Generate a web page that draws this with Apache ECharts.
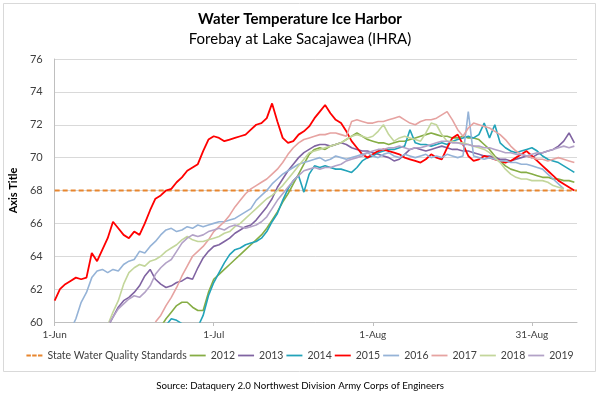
<!DOCTYPE html>
<html>
<head>
<meta charset="utf-8">
<script src="https://cdn.jsdelivr.net/npm/echarts@6/dist/echarts.min.js"></script>
<style>
  html, body { margin: 0; padding: 0; background: #fff; }
  #chart { width: 600px; height: 399px; }
</style>
</head>
<body>
<div id="chart"></div>
<script>
// --- data: daily temperatures (°F), day 0 = 1-Jun ---
const xTickLabels = ['1-Jun', '1-Jul', '1-Aug', '31-Aug'];
const wqsLevel = 68;
const wqsDays = [0, 98.5];

const start2012 = 20;
const temps2012 = [59.7,
  60.2, 60.6, 61.0, 61.2, 61.2, 60.9, 60.7, 60.7, 61.8,
  62.6, 62.9, 63.2, 63.5, 63.8, 64.1, 64.4, 64.7, 65.0, 65.3,
  65.7, 66.2, 66.7, 67.3, 67.8, 68.4, 69.0, 69.6, 70.2, 70.5,
  70.6, 70.5, 70.7, 70.8, 70.9, 71.1, 71.3, 71.5, 71.3, 71.1,
  71.0, 70.9, 70.9, 70.8, 70.9, 71.0, 71.0, 71.1, 71.2, 71.3,
  71.4, 71.5, 71.4, 71.3, 71.3, 71.2, 71.2, 71.3, 71.2, 71.2,
  71.1, 70.8, 70.5, 70.1, 69.8, 69.5, 69.3, 69.2, 69.1, 69.1,
  69.0, 68.9, 68.8, 68.8, 68.7, 68.7, 68.6, 68.6, 68.5];

const start2013 = 10;
const temps2013 = [59.7,
  60.3, 60.9, 61.3, 61.5, 61.8, 62.2, 62.8, 63.2, 62.6,
  62.3, 62.1, 62.2, 62.4, 62.5, 62.7, 62.6, 63.3, 63.9, 64.3,
  64.6, 64.7, 64.9, 65.1, 65.4, 65.6, 65.8, 65.9, 66.2, 66.6,
  67.0, 67.5, 68.2, 68.7, 69.2, 69.6, 70.0, 70.3, 70.5, 70.7,
  70.8, 70.8, 70.7, 70.8, 70.9, 70.8, 70.6, 70.5, 70.4, 70.4,
  70.3, 70.2, 70.1, 70.0, 69.8, 69.9, 70.2, 70.5, 70.6, 70.5,
  70.4, 70.5, 70.6, 70.7, 70.6, 70.5, 70.5, 70.4, 70.4, 70.3,
  70.2, 70.1, 70.1, 70.0, 69.9, 69.9, 69.8, 69.9, 70.0, 70.1,
  70.0, 70.2, 70.3, 70.4, 70.5, 70.7, 71.0, 71.5, 70.9];

const start2014 = 21;
const temps2014 = [59.8,
  60.2, 60.1, 59.9, 59.6, 59.5, 59.7, 60.4, 61.6,
  62.4, 63.0, 63.6, 64.1, 64.4, 64.5, 64.7, 64.8, 64.9, 65.1,
  65.5, 66.1, 66.6, 67.4, 68.1, 68.6, 68.9, 67.9, 69.0, 69.5,
  69.4, 69.5, 69.4, 69.3, 69.3, 69.2, 69.1, 69.4, 69.8, 70.0,
  70.1, 70.3, 70.4, 70.5, 70.5, 70.6, 70.7, 71.7, 70.9, 70.8,
  70.8, 70.7, 70.8, 70.9, 70.8, 71.0, 71.1, 71.2, 71.3, 71.2,
  71.4, 72.1, 71.2, 72.0, 70.9, 70.6, 70.4, 70.3, 70.4, 70.5,
  70.6, 70.4, 70.1, 69.9, 69.8, 69.7, 69.5, 69.3, 69.1];

const start2015 = 0;
const temps2015 = [
  61.3, 62.0, 62.3, 62.5, 62.7, 62.6, 62.7, 64.2, 63.7, 64.4,
  65.1, 66.1, 65.7, 65.3, 65.1, 65.5, 65.3, 66.0, 66.8, 67.5,
  67.7, 68.0, 68.1, 68.5, 68.8, 69.2, 69.4, 69.6, 70.4, 71.1,
  71.3, 71.2, 71.0, 71.1, 71.2, 71.3, 71.4, 71.7, 72.0, 72.1,
  72.4, 73.3, 72.2, 71.2, 70.9, 71.0, 71.4, 71.6, 71.9, 72.4,
  72.8, 73.2, 72.7, 72.3, 72.1, 71.6, 71.0, 70.6, 70.2, 70.0,
  70.2, 70.4, 70.5, 70.4, 70.3, 70.2, 70.0, 69.9, 69.8, 69.7,
  69.9, 70.2, 70.0, 69.9, 70.6, 71.2, 71.4, 70.8, 70.1, 69.8,
  69.9, 70.1, 70.0, 69.9, 69.8, 69.7, 69.8, 70.0, 70.2, 70.4,
  70.1, 69.8, 69.5, 69.2, 68.9, 68.6, 68.4, 68.2, 68.0];

const start2016 = 3;
const temps2016 = [59.5, 60.2, 61.2, 61.8, 62.7, 63.1, 63.2,
  63.0, 63.2, 63.1, 63.5, 63.7, 63.8, 64.3, 64.2, 64.6, 64.9,
  65.3, 65.6, 65.7, 65.5, 65.6, 65.8, 65.7, 65.9, 65.8, 65.9,
  66.0, 66.1, 66.1, 66.2, 66.3, 66.5, 66.7, 66.9, 67.4, 67.7,
  68.0, 68.4, 68.7, 69.0, 69.2, 69.4, 69.6, 69.7, 69.8, 69.9,
  70.0, 69.8, 69.9, 70.1, 70.0, 69.9, 70.0, 70.1, 70.2, 70.3,
  70.1, 70.0, 70.2, 70.3, 70.1, 70.0, 70.2, 70.1, 70.0, 70.1,
  70.2, 70.0, 70.1, 70.0, 70.2, 70.1, 70.0, 70.1, 72.8, 70.1,
  70.0, 69.9, 70.0, 69.9, 69.8, 69.8, 69.7, 69.7, 69.6, 69.6,
  69.5, 69.4, 69.3, 69.0, 68.7, 68.4, 68.1];

const start2017 = 19;
const temps2017 = [60.0,
  60.4, 61.0, 61.5, 62.1, 62.8, 63.4, 64.0, 64.3, 64.6, 65.0,
  65.5, 65.8, 66.1, 66.5, 67.0, 67.4, 67.8, 68.1, 68.3, 68.5,
  68.7, 69.0, 69.3, 69.7, 70.2, 70.6, 70.9, 71.1, 71.2, 71.3,
  71.4, 71.4, 71.5, 71.5, 71.4, 71.3, 72.2, 72.3, 72.2, 72.1,
  72.1, 72.2, 72.2, 72.3, 72.4, 72.5, 72.3, 72.1, 72.0, 72.2,
  72.3, 72.3, 72.4, 72.6, 72.8, 72.3, 71.7, 71.3, 71.8, 72.1,
  72.0, 71.9, 71.8, 71.6, 71.4, 71.1, 70.7, 70.4, 70.2, 70.1,
  70.0, 69.9, 69.9, 69.8, 69.9, 70.0, 69.9, 69.8, 69.7];

const start2018 = 10;
const temps2018 = [59.8,
  60.6, 61.3, 62.3, 63.0, 63.3, 63.5, 63.4, 63.7, 63.8,
  64.0, 64.3, 64.5, 64.7, 65.0, 65.2, 65.0, 64.9, 64.9, 65.0,
  65.1, 65.2, 65.4, 65.5, 65.8, 66.0, 66.3, 66.6, 66.9, 67.2,
  67.5, 67.7, 68.0, 68.3, 68.7, 69.1, 69.5, 69.9, 70.3, 70.4,
  70.5, 70.6, 70.7, 70.8, 70.9, 71.1, 71.3, 71.4, 71.3, 71.2,
  71.3, 71.6, 72.0, 71.4, 71.0, 71.2, 71.3, 71.2, 71.1, 71.0,
  71.5, 72.1, 72.0, 71.4, 71.0, 71.0, 70.9, 70.9, 70.8, 70.7,
  70.6, 70.5, 70.3, 70.0, 69.7, 69.3, 69.0, 68.8, 68.7, 68.7,
  68.6, 68.6, 68.6, 68.5, 68.3, 68.2, 68.1];

const start2019 = 10;
const temps2019 = [59.8,
  60.3, 60.8, 61.1, 61.4, 61.6, 61.5, 61.8, 62.2, 62.9,
  63.3, 63.6, 63.8, 64.3, 64.8, 65.1, 65.3, 65.2, 65.3, 65.5,
  65.6, 65.7, 65.6, 65.8, 65.9, 65.8, 65.7, 65.8, 65.9, 66.1,
  66.4, 66.9, 67.4, 67.8, 68.2, 68.6, 68.9, 69.2, 69.3, 69.4,
  69.3, 69.4, 69.4, 69.5, 69.6, 69.8, 69.9, 70.0, 70.1, 70.3,
  70.4, 70.5, 70.5, 70.6, 70.6, 70.7, 70.6, 70.5, 70.6, 70.6,
  70.7, 70.8, 70.9, 71.0, 71.0, 70.9, 70.9, 70.8, 70.8, 70.7,
  70.7, 70.6, 70.6, 70.5, 70.4, 70.3, 70.3, 70.2, 70.2, 70.1,
  70.2, 70.3, 70.3, 70.4, 70.5, 70.6, 70.7, 70.6, 70.7];

// --- colours (Excel-like palette) ---
const COLORS = {
  wqs: '#e8862e',
  y2012: '#86ad45',
  y2013: '#8064a2',
  y2014: '#22a3b9',
  y2015: '#ff0000',
  y2016: '#95b3d7',
  y2017: '#e6a3a1',
  y2018: '#c3d69b',
  y2019: '#b3a2c7'
};

const FONT = 'Lato, "Open Sans", sans-serif';
const TEXT = '#404040';

// legend icons: plain line for years, three dashes for the standard
const LINE_ICON = 'path://M0,0H18V2H0Z';
const DASH_ICON = 'path://M0,0H5V2H0Z M6.5,0H11.5V2H6.5Z M13,0H18V2H13Z';

const toPairs = (start, vals) => vals.map((v, i) => [start + i, v]);

const yearLine = (name, color, start, vals, width) => ({
  name: name,
  type: 'line',
  symbol: 'none',
  data: toPairs(start, vals),
  lineStyle: { color: color, width: width || 1.6 },
  itemStyle: { color: color },
  emphasis: { disabled: true }
});

const years = ['2012', '2013', '2014', '2015', '2016', '2017', '2018', '2019'];

const chart = echarts.init(document.getElementById('chart'));

chart.setOption({
  animation: false,
  backgroundColor: '#fff',
  title: [
    {
      text: 'Water Temperature Ice Harbor',
      left: 'center',
      top: 7,
      textStyle: { fontFamily: FONT, fontSize: 15, fontWeight: 'bold', color: '#000' }
    },
    {
      text: 'Forebay at Lake Sacajawea (IHRA)',
      left: 'center',
      top: 27,
      textStyle: { fontFamily: FONT, fontSize: 15, fontWeight: 'normal', color: '#000' }
    },
    {
      text: 'Source: Dataquery 2.0 Northwest Division Army Corps of Engineers',
      left: 'center',
      top: 376,
      textStyle: { fontFamily: FONT, fontSize: 9.7, fontWeight: 'normal', color: '#000' }
    }
  ],
  // 外框
  graphic: [{
    type: 'rect',
    shape: { x: 3.5, y: 3.5, width: 592, height: 368 },
    style: { fill: 'none', stroke: '#d9d9d9', lineWidth: 1 },
    silent: true
  }],
  legend: {
    left: 'center',
    top: 350,
    padding: 0,
    itemWidth: 16,
    itemHeight: 2,
    itemGap: 3,
    textStyle: { fontFamily: FONT, fontSize: 10.5, color: TEXT },
    data: [{ name: 'State Water Quality Standards', icon: DASH_ICON }]
      .concat(years.map(y => ({ name: y, icon: LINE_ICON })))
  },
  grid: { left: 53, right: 23, top: 59, bottom: 77 },
  xAxis: {
    type: 'value',
    min: 0,
    max: 98.5,
    interval: 30,
    axisLine: { show: true, lineStyle: { color: '#bfbfbf' } },
    axisTick: { show: true, length: 4, lineStyle: { color: '#bfbfbf' } },
    splitLine: { show: false },
    axisLabel: {
      showMaxLabel: false,
      margin: 8,
      fontFamily: FONT,
      fontSize: 10,
      color: TEXT,
      formatter: v => (v % 30 === 0 ? xTickLabels[v / 30] || '' : '')
    }
  },
  yAxis: {
    type: 'value',
    min: 60,
    max: 76,
    interval: 2,
    name: 'Axis Title',
    nameLocation: 'middle',
    nameGap: 32,
    nameTextStyle: { fontFamily: FONT, fontSize: 11, fontWeight: 'bold', color: '#000' },
    axisLine: { show: true, lineStyle: { color: '#bfbfbf' } },
    axisTick: { show: false },
    splitLine: { lineStyle: { color: '#d9d9d9', width: 1 } },
    axisLabel: { margin: 12, fontFamily: FONT, fontSize: 11, color: TEXT }
  },
  series: [
    {
      name: 'State Water Quality Standards',
      type: 'line',
      symbol: 'none',
      data: wqsDays.map(d => [d, wqsLevel]),
      lineStyle: { color: COLORS.wqs, width: 2, type: [5, 3] },
      itemStyle: { color: COLORS.wqs },
      emphasis: { disabled: true }
    },
    yearLine('2012', COLORS.y2012, start2012, temps2012),
    yearLine('2013', COLORS.y2013, start2013, temps2013),
    yearLine('2014', COLORS.y2014, start2014, temps2014),
    yearLine('2015', COLORS.y2015, start2015, temps2015, 1.8),
    yearLine('2016', COLORS.y2016, start2016, temps2016),
    yearLine('2017', COLORS.y2017, start2017, temps2017),
    yearLine('2018', COLORS.y2018, start2018, temps2018),
    yearLine('2019', COLORS.y2019, start2019, temps2019)
  ]
});
</script>
</body>
</html>
